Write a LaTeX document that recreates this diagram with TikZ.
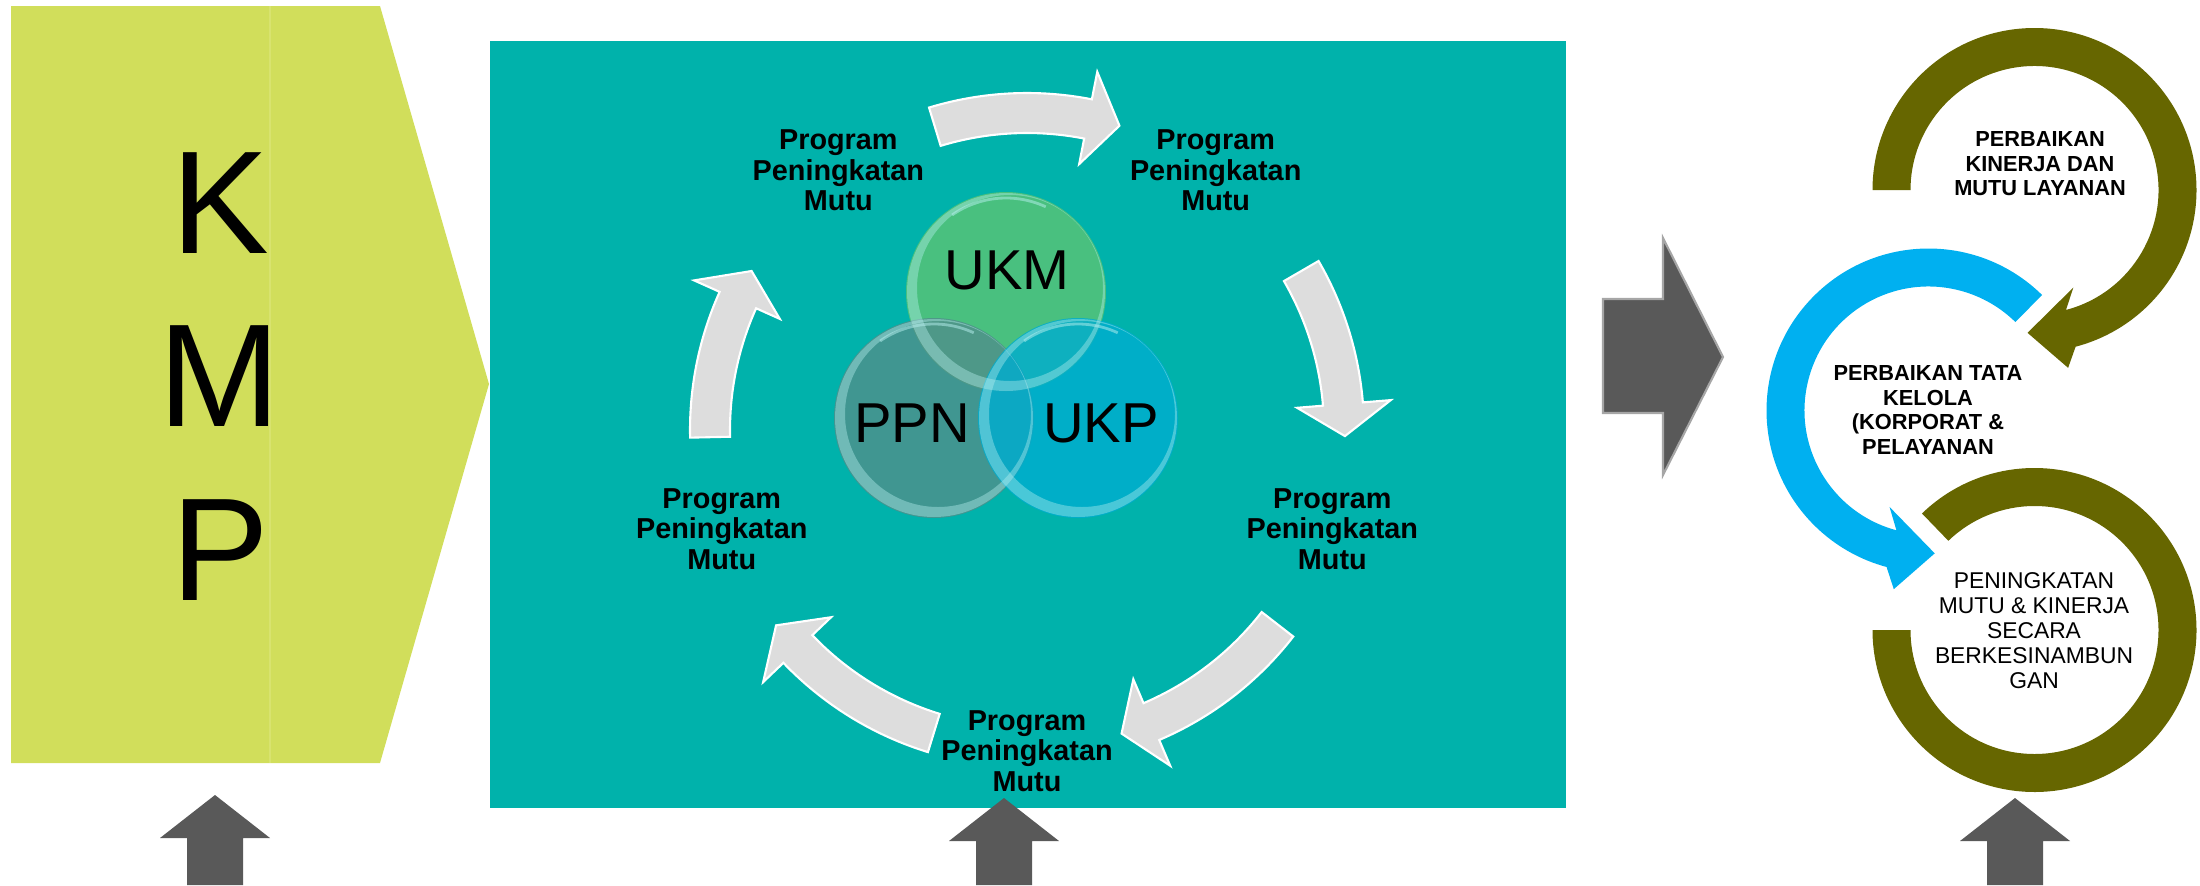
\documentclass[tikz,border=0pt]{standalone}
\usepackage{fontspec}
\setmainfont{Liberation Sans}
\usetikzlibrary{calc}
\definecolor{kmpgreen}{HTML}{D1DE5B}
\definecolor{kmpline}{HTML}{D8E36F}
\definecolor{tealbg}{HTML}{00B2AB}
\definecolor{arrowgray}{HTML}{595959}
\definecolor{arrowedge}{HTML}{A6A6A6}
\definecolor{cyclegray}{HTML}{DDDDDD}
\definecolor{ringolive}{HTML}{666600}
\definecolor{ringblue}{HTML}{00B0F0}
\definecolor{ukmgreen}{HTML}{5CC474}
\definecolor{ppngray}{HTML}{508F8B}
\definecolor{ukpblue}{HTML}{00ADD0}
\definecolor{glass}{HTML}{B8F0F0}

\begin{document}
\begin{tikzpicture}[x=0.1mm, y=-0.1mm,
  kmpletter/.style={inner sep=0pt, font=\fontsize{41.7}{50}\selectfont},
  prog/.style={align=center, inner sep=0pt, font=\fontsize{8.2}{8.7}\selectfont\bfseries},
  cyclearrow/.style={fill=cyclegray, draw=white, line width=0.6pt},
  bubble/.style={fill opacity=0.8},
  bubbletext/.style={inner sep=0pt, font=\fontsize{16}{19}\selectfont},
  ringbold/.style={align=center, inner sep=0pt, font=\fontsize{6.2}{7}\selectfont\bfseries},
  ringplain/.style={align=center, inner sep=0pt, font=\fontsize{6.5}{7.1}\selectfont},
  blockarrow/.style={fill=arrowgray}]
  \useasboundingbox (0,0) rectangle (2200,885);

  % KMP chevron
  \fill[kmpgreen] (11,6) -- (380,6) -- (489,384) -- (380,763) -- (11,763) -- cycle;
  \draw[kmpline, line width=0.3pt] (270,6) -- (270,763);
  \foreach \l/\y in {K/203, M/376, P/550}
    \node[kmpletter] (kmp\l) at (220,\y) {\l};

  % teal panel
  \fill[tealbg] (490,41) rectangle (1566,808);

  % cycle of curved arrows round C
  \coordinate (C) at (1027,430);
  \def\rout{337}  % outer edge of shaft
  \def\rin{297}   % inner edge of shaft
  \foreach \a/\b in {-106.9/-78.9, -30.1/-4.7, 37.8/66.9, 107.1/136.3, 178.7/204.2}{
    \filldraw[cyclearrow] ($(C)+(\a:\rout)$) arc[start angle=\a, end angle=\b, radius=\rout]
      -- ($(C)+(\b:365)$) -- ($(C)+(\b+5.8:318)$) -- ($(C)+(\b:271)$) -- ($(C)+(\b:\rin)$)
      arc[start angle=\b, end angle=\a, radius=\rin] -- cycle;
  }
  \foreach \t [count=\i] in {-126,-54,18,90,162}
    \node[prog] (pm\i) at ($(C)+(\t:321)$) {Program\\Peningkatan\\Mutu};

  % three bubbles
  \coordinate (ukmc) at (1006,292);
  \coordinate (ppnc) at (934,418);
  \coordinate (ukpc) at (1078,418);
  \fill[ukmgreen, bubble] (ukmc) circle[radius=100];
  \fill[ppngray, bubble] (ppnc) circle[radius=100];
  \fill[ukpblue, bubble] (ukpc) circle[radius=100];
  % glassy rims
  \foreach \c in {ukmc, ppnc, ukpc}{
    \fill[glass, opacity=0.4, even odd rule] (\c) circle[radius=99] ($(\c)+(4,-4)$) circle[radius=93];
    \draw[glass, opacity=0.5, line width=0.8pt] ($(\c)+(235:94)$) arc[start angle=235, end angle=295, radius=94];
  }
  \node[bubbletext] (ukm) at (1007,270) {UKM};
  \node[bubbletext] (ppn) at (912,423) {PPN};
  \node[bubbletext] (ukp) at (1101,423) {UKP};

  % arrow to the rings
  \filldraw[blockarrow, draw=arrowedge, line width=0.6pt]
    (1603,299) -- (1663,299) -- (1663,238) -- (1723,357) -- (1663,475) -- (1663,413) -- (1603,413) -- cycle;

  % rings
  \def\rout{162}
  \def\rin{124}
  \coordinate (rt) at (2034.5,190);
  \coordinate (rm) at (1928.5,410.5);
  \coordinate (rb) at (2034.5,630);
  \fill[ringolive] ($(rt)+(180:\rout)$) arc[start angle=180, end angle=435.3, radius=\rout]
    -- ($(rt)+(439.3:181)$) -- ($(rt)+(452.8:143)$) -- ($(rt)+(428.3:105)$) -- ($(rt)+(435.3:\rin)$)
    arc[start angle=435.3, end angle=180, radius=\rin] -- cycle;
  \fill[ringblue] ($(rm)+(-45.5:\rout)$) arc[start angle=-45.5, end angle=-255, radius=\rout]
    -- ($(rm)+(-259:182)$) -- ($(rm)+(-272.5:143)$) -- ($(rm)+(-248:104)$) -- ($(rm)+(-255:\rin)$)
    arc[start angle=-255, end angle=-45.5, radius=\rin] -- cycle;
  \fill[ringolive] ($(rb)+(-134:\rout)$) arc[start angle=-134, end angle=180, radius=\rout]
    -- ($(rb)+(180:\rin)$) arc[start angle=180, end angle=-134, radius=\rin] -- cycle;
  \node[ringbold] (kinerja) at (2040,164) {PERBAIKAN\\KINERJA DAN\\MUTU LAYANAN};
  \node[ringbold] (tatakelola) at (1928,410) {PERBAIKAN TATA\\KELOLA\\(KORPORAT \&\\PELAYANAN};
  \node[ringplain] (berkesinambungan) at (2034,631) {PENINGKATAN\\MUTU \& KINERJA\\SECARA\\BERKESINAMBUN\\GAN};

  % up arrows along the bottom
  \foreach \x/\tip in {215/795, 1004/798, 2015/798}
    \fill[blockarrow] (\x,\tip) -- (\x+55,\tip+43) -- (\x+28,\tip+43) -- (\x+28,885)
      -- (\x-28,885) -- (\x-28,\tip+43) -- (\x-55,\tip+43) -- cycle;
\end{tikzpicture}
\end{document}
